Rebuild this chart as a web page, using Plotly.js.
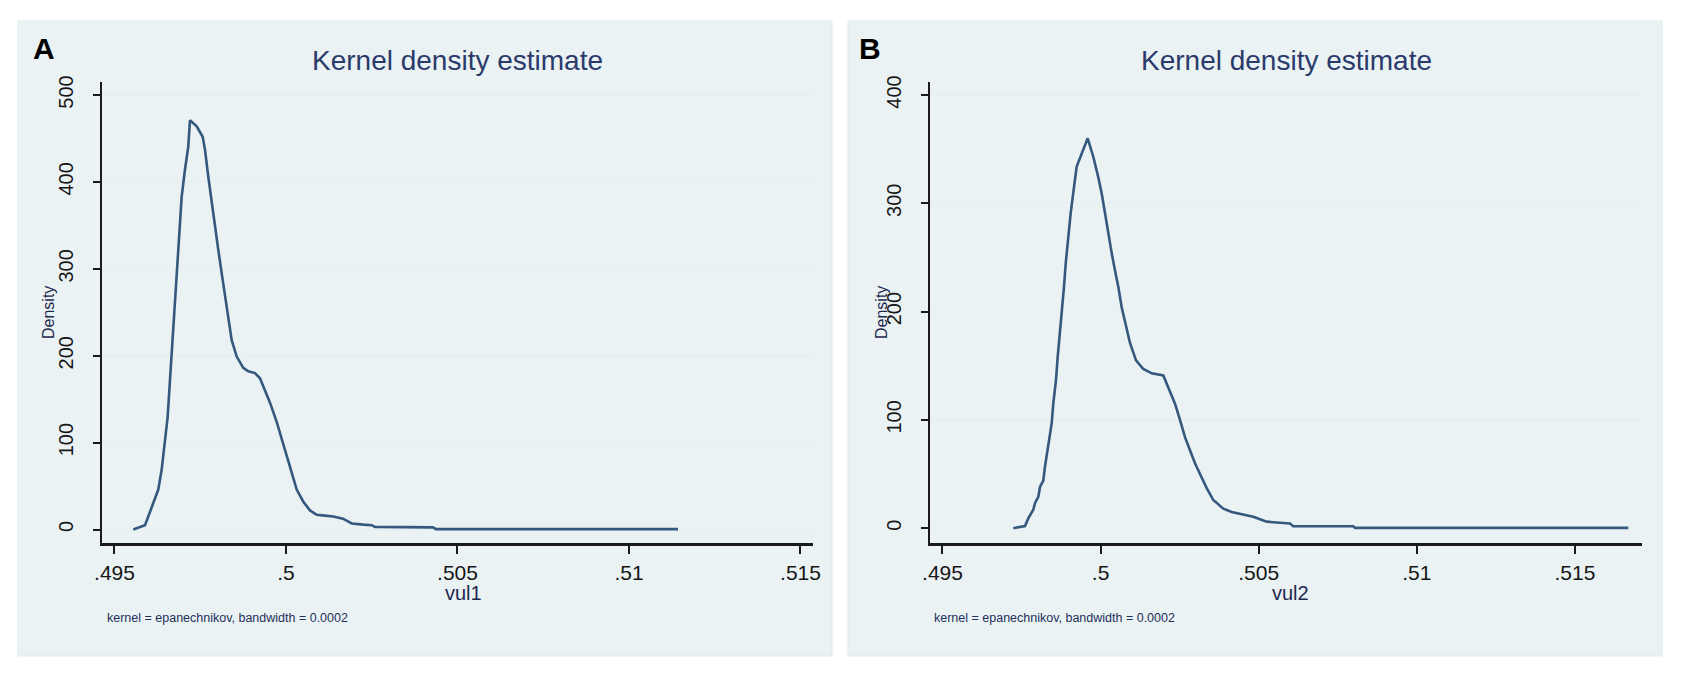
<!DOCTYPE html>
<html>
<head>
<meta charset="utf-8">
<script src="https://cdn.plot.ly/plotly-3.0.1.min.js"></script>
<style>
  html, body { margin: 0; padding: 0; background: #ffffff; }
  #chart { width: 1683px; height: 678px; }
</style>
</head>
<body>
<div id="chart"></div>
<script>
// ---------------- data ----------------
const panelLabels = ['A', 'B'];
const chartTitle = 'Kernel density estimate';
const xAxisTitles = ['vul1', 'vul2'];
const yAxisTitle = 'Density';
const noteText = 'kernel = epanechnikov, bandwidth = 0.0002';

const xTickVals = [0.495, 0.5, 0.505, 0.51, 0.515];
const xTickText = ['.495', '.5', '.505', '.51', '.515'];
const yTickValsA = [0, 100, 200, 300, 400, 500];
const yTickValsB = [0, 100, 200, 300, 400];

// Panel A: vul1
const vul1X = [0.495548, 0.495889, 0.495985, 0.496131, 0.496277, 0.496376, 0.496472, 0.496551,
  0.496618, 0.496668, 0.496735, 0.496793, 0.496860, 0.496910, 0.496959, 0.497055, 0.497152,
  0.497201, 0.497397, 0.497571, 0.497639, 0.497735, 0.497834, 0.497930, 0.498026, 0.498125,
  0.498222, 0.498318, 0.498417, 0.498563, 0.498755, 0.498901, 0.499096, 0.499242, 0.499388,
  0.499534, 0.499729, 0.499921, 0.500117, 0.500312, 0.500505, 0.500700, 0.500895, 0.501137,
  0.501379, 0.501662, 0.501916, 0.502254, 0.502499, 0.502595, 0.503907, 0.504286, 0.504374,
  0.511429];
const vul1Density = [0, 5, 15, 30, 46, 69, 100, 130,
  172, 205, 249, 287, 322, 353, 383, 414, 441,
  471, 464, 452, 437, 406, 376, 349, 322, 295,
  268, 241, 218, 199, 186, 182, 180, 174, 161,
  146, 124, 97, 72, 46, 32, 22, 17, 16,
  15, 12.5, 7, 5.7, 5, 3, 2.5, 2.5, 0.5,
  0.5];

// Panel B: vul2
const vul2X = [0.497239, 0.497609, 0.497713, 0.497872, 0.497925, 0.498030, 0.498084, 0.498188,
  0.498242, 0.498346, 0.498454, 0.498504, 0.498590, 0.498643, 0.498716, 0.498770, 0.498843,
  0.498896, 0.498979, 0.499054, 0.499159, 0.499244, 0.499592, 0.499769, 0.499927, 0.500035,
  0.500139, 0.500244, 0.500351, 0.500456, 0.500560, 0.500667, 0.500803, 0.500930, 0.501120,
  0.501350, 0.501616, 0.501983, 0.502141, 0.502353, 0.502511, 0.502669, 0.502827, 0.502986,
  0.503144, 0.503356, 0.503564, 0.503881, 0.504146, 0.504409, 0.504829, 0.505253, 0.505990,
  0.506094, 0.507992, 0.508046, 0.516689];
const vul2Density = [0, 2, 9, 17, 23, 29, 38, 44,
  57, 75, 97, 115, 137, 158, 180, 201, 223,
  244, 269, 291, 315, 334, 360, 343, 324, 309,
  291, 272, 254, 238, 223, 204, 186, 171, 155,
  147, 143, 141, 130, 115, 100, 84, 72, 60,
  50, 37, 26, 18, 15, 13, 10.5, 6, 4.3,
  1.8, 1.8, 0.3, 0.3];

// ---------------- layout helpers ----------------
const W = 1683, H = 678;
const px = v => v / W;
const py = v => 1 - v / H;

const FONT = 'Liberation Sans, Arial, sans-serif';
const panelBg = '#eaf2f4';
const lineColor = '#34587e';
const axisColor = '#1a1a1a';
const gridColor = '#e6eff2';
const titleColor = '#2a3b6b';

const lineStyle = { color: lineColor, width: 2.6 };

const traces = [
  { x: vul1X, y: vul1Density, type: 'scatter', mode: 'lines', line: lineStyle,
    xaxis: 'x', yaxis: 'y', hoverinfo: 'x+y', showlegend: false },
  { x: vul2X, y: vul2Density, type: 'scatter', mode: 'lines', line: lineStyle,
    xaxis: 'x2', yaxis: 'y2', hoverinfo: 'x+y', showlegend: false }
];

function xAxis(domain, range) {
  return {
    domain: domain, range: range, tickvals: xTickVals, ticktext: xTickText,
    showgrid: false, zeroline: false, showline: true, linecolor: axisColor, linewidth: 2.5,
    ticks: 'outside', ticklen: 8, tickwidth: 2, tickcolor: axisColor,
    tickfont: { family: FONT, size: 21, color: '#161616' }, ticklabelstandoff: 1,
    fixedrange: true
  };
}
function yAxis(domain, range, tickvals, anchor) {
  return {
    domain: domain, range: range, tickvals: tickvals, anchor: anchor,
    showgrid: true, gridcolor: gridColor, gridwidth: 2, zeroline: false,
    showline: true, linecolor: axisColor, linewidth: 2.5,
    ticks: 'outside', ticklen: 7, tickwidth: 2, tickcolor: axisColor, tickangle: -90,
    tickfont: { family: FONT, size: 20, color: '#161616' }, ticklabelstandoff: 12,
    fixedrange: true
  };
}

const yDom = [py(543), py(82)];

const layout = {
  width: W, height: H,
  margin: { l: 0, r: 0, t: 0, b: 0, pad: 0 },
  paper_bgcolor: '#ffffff', plot_bgcolor: '#ffffff',
  showlegend: false,
  xaxis: Object.assign(xAxis([px(102), px(813)], [0.494636, 0.515365]), { anchor: 'y' }),
  yaxis: yAxis(yDom, [-15.5, 515], yTickValsA, 'x'),
  xaxis2: Object.assign(xAxis([px(930), px(1642)], [0.494605, 0.517122]), { anchor: 'y2' }),
  yaxis2: yAxis(yDom, [-13.7, 412], yTickValsB, 'x2'),
  shapes: [
    { type: 'rect', xref: 'paper', yref: 'paper', x0: px(18), x1: px(832), y0: py(656), y1: py(21),
      fillcolor: panelBg, line: { color: '#dfe9ed', width: 1 }, layer: 'below' },
    { type: 'rect', xref: 'paper', yref: 'paper', x0: px(848), x1: px(1662), y0: py(656), y1: py(21),
      fillcolor: panelBg, line: { color: '#dfe9ed', width: 1 }, layer: 'below' }
  ],
  annotations: [
    { text: panelLabels[0], x: px(44), y: py(49), xref: 'paper', yref: 'paper', showarrow: false,
      xanchor: 'center', yanchor: 'middle', font: { family: FONT, size: 30, color: '#000', weight: 'bold' } },
    { text: panelLabels[1], x: px(870), y: py(49), xref: 'paper', yref: 'paper', showarrow: false,
      xanchor: 'center', yanchor: 'middle', font: { family: FONT, size: 30, color: '#000', weight: 'bold' } },
    { text: chartTitle, x: px(457.5), y: py(60), xref: 'paper', yref: 'paper', showarrow: false,
      xanchor: 'center', yanchor: 'middle', font: { family: FONT, size: 28, color: titleColor } },
    { text: chartTitle, x: px(1286), y: py(60), xref: 'paper', yref: 'paper', showarrow: false,
      xanchor: 'center', yanchor: 'middle', font: { family: FONT, size: 28, color: titleColor } },
    { text: xAxisTitles[0], x: px(464), y: py(593), xref: 'paper', yref: 'paper', showarrow: false,
      xanchor: 'center', yanchor: 'middle', font: { family: FONT, size: 20, color: '#1e2850' } },
    { text: xAxisTitles[1], x: px(1290), y: py(593), xref: 'paper', yref: 'paper', showarrow: false,
      xanchor: 'center', yanchor: 'middle', font: { family: FONT, size: 20, color: '#1e2850' } },
    { text: yAxisTitle, x: px(48), y: py(313), xref: 'paper', yref: 'paper', showarrow: false, textangle: -90,
      xanchor: 'center', yanchor: 'middle', font: { family: FONT, size: 16, color: '#1e2850' } },
    { text: yAxisTitle, x: px(881), y: py(313), xref: 'paper', yref: 'paper', showarrow: false, textangle: -90,
      xanchor: 'center', yanchor: 'middle', font: { family: FONT, size: 16, color: '#1e2850' } },
    { text: noteText, x: px(105), y: py(618), xref: 'paper', yref: 'paper', showarrow: false,
      xanchor: 'left', yanchor: 'middle', font: { family: FONT, size: 12.5, color: '#24305a' } },
    { text: noteText, x: px(932), y: py(618), xref: 'paper', yref: 'paper', showarrow: false,
      xanchor: 'left', yanchor: 'middle', font: { family: FONT, size: 12.5, color: '#24305a' } }
  ]
};

Plotly.newPlot('chart', traces, layout, { displayModeBar: false, staticPlot: true });
</script>
</body>
</html>
